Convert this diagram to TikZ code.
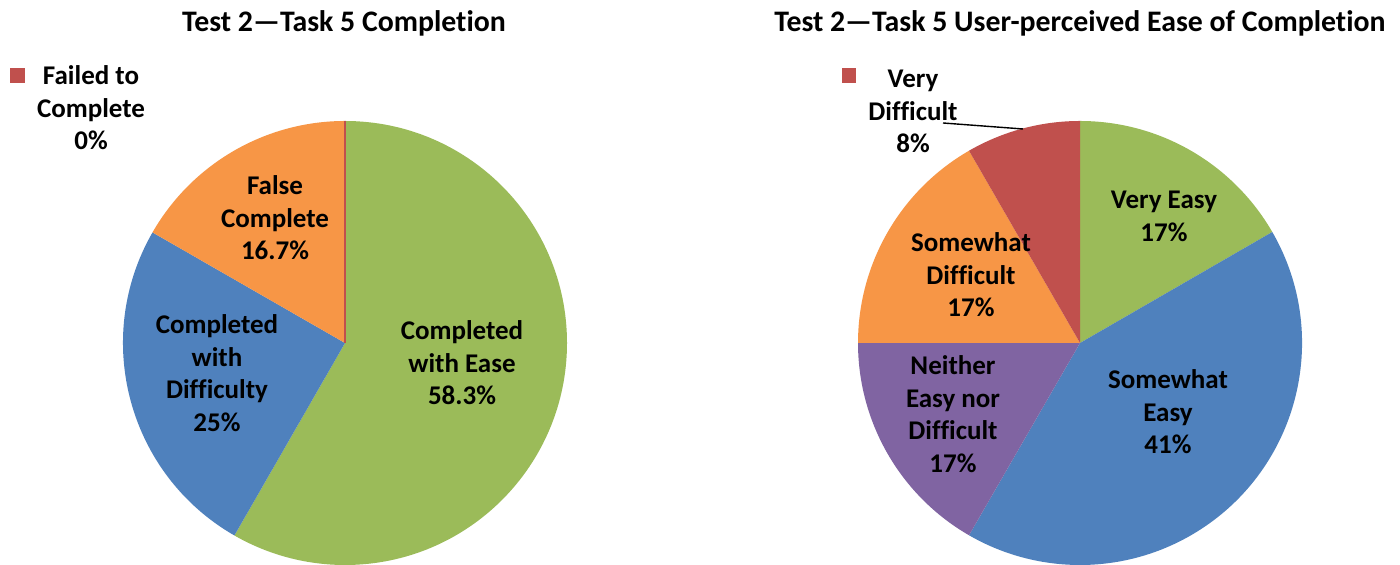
\documentclass[tikz,border=0pt]{standalone}
\usepackage{fontspec}
\setmainfont{Carlito}[Ligatures={NoCommon}]
\usetikzlibrary{calc}

\definecolor{pgreen}{HTML}{9BBB59}
\definecolor{pblue}{HTML}{4F81BD}
\definecolor{porange}{HTML}{F79646}
\definecolor{pred}{HTML}{C0504D}
\definecolor{ppurple}{HTML}{8064A2}

% stacked, centred label lines; baseline is that of the first line
\newcommand\stacklines[1]{\begin{tabular}[t]{@{}c@{}}#1\end{tabular}}

\begin{document}
\begin{tikzpicture}[x=0.5pt,y=0.5pt,
  lbl/.style={anchor=base,inner sep=0pt,font=\fontsize{13.5}{16.25}\selectfont\bfseries},
  ttl/.style={anchor=base,inner sep=0pt,font=\fontsize{14.9}{18}\selectfont\bfseries},
  legkey/.style={fill=pred,draw=none}]
\useasboundingbox (0,0) rectangle (1400,565);
\fill[white] (0,0) rectangle (1400,565);

% ---------- left chart ----------
\coordinate (cL) at (345,222);
\def\R{222}
\fill[pgreen]  (cL) -- ++(90:\R)      arc[start angle=90,      end angle=-119.88, radius=\R] -- cycle;
\fill[pblue]   (cL) -- ++(-119.88:\R) arc[start angle=-119.88, end angle=-209.88, radius=\R] -- cycle;
\fill[porange] (cL) -- ++(150.12:\R)  arc[start angle=150.12,  end angle=90,      radius=\R] -- cycle;
\coordinate (topL) at ($(cL)+(90:\R)$);
\draw[pred,line width=0.6pt] (cL) -- (topL);

\node[ttl] (titleL) at (344,533) {Test 2—Task 5 Completion};

\fill[legkey] (10,482) rectangle (25,497);
\node[lbl] (failed) at (91,480) {\stacklines{Failed to\\Complete\\0\%}};
\node[lbl] (falsec) at (275,370) {\stacklines{False\\Complete\\16.7\%}};
\node[lbl] (cdiff)  at (217,231) {\stacklines{Completed\\with\\Difficulty\\25\%}};
\node[lbl] (cease)  at (462,225) {\stacklines{Completed\\with Ease\\58.3\%}};

% ---------- right chart ----------
\coordinate (cR) at (1080,222);
\fill[pgreen]   (cR) -- ++(90:\R)   arc[start angle=90,   end angle=30,   radius=\R] -- cycle;
\fill[pblue]    (cR) -- ++(30:\R)   arc[start angle=30,   end angle=-120, radius=\R] -- cycle;
\fill[ppurple]  (cR) -- ++(-120:\R) arc[start angle=-120, end angle=-180, radius=\R] -- cycle;
\fill[porange]  (cR) -- ++(180:\R)  arc[start angle=180,  end angle=120,  radius=\R] -- cycle;
\fill[pred]     (cR) -- ++(120:\R)  arc[start angle=120,  end angle=90,   radius=\R] -- cycle;

\node[ttl] (titleR) at (1080,533) {Test 2—Task 5 User-perceived Ease of Completion};

\fill[legkey] (842,482) rectangle (856,497);
\node[lbl] (vdiff) at (913,477) {\stacklines{Very\\Difficult\\8\%}};
\coordinate (leadA) at (943,442);
\coordinate (leadB) at (1023,436);
\draw[black,line width=0.7pt] (leadA) -- (leadB);

\node[lbl] (veasy)  at (1164,356) {\stacklines{Very Easy\\17\%}};
\node[lbl] (seasy)  at (1168,176) {\stacklines{Somewhat\\Easy\\41\%}};
\node[lbl] (sdiff)  at (971,313)  {\stacklines{Somewhat\\Difficult\\17\%}};
\node[lbl] (neith)  at (953,190)  {\stacklines{Neither\\Easy nor\\Difficult\\17\%}};
\end{tikzpicture}
\end{document}
